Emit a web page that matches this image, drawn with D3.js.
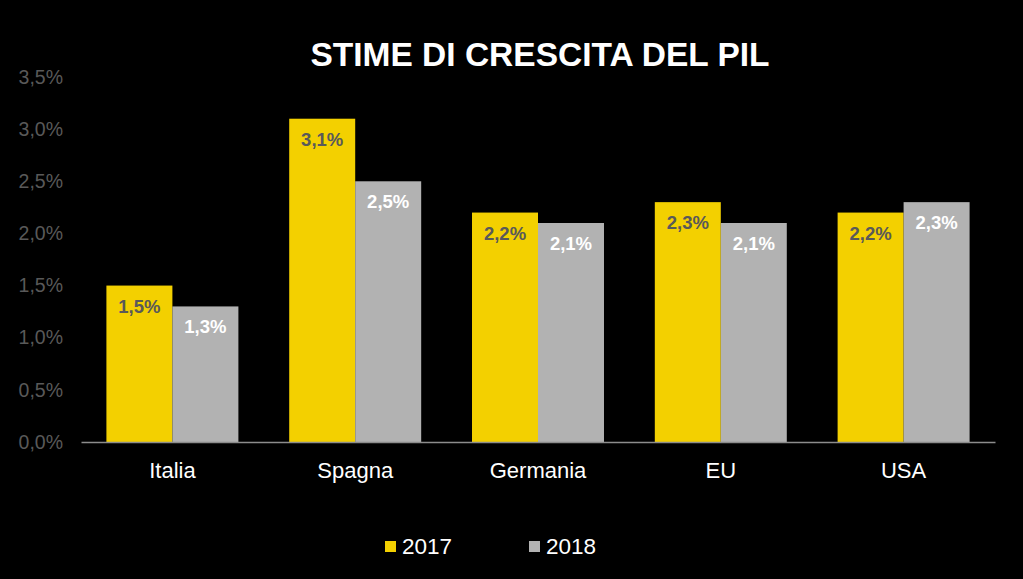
<!DOCTYPE html>
<html><head><meta charset="utf-8">
<script src="https://cdn.jsdelivr.net/npm/d3@7"></script>
<style>html,body{margin:0;padding:0;background:#000;}svg{display:block;}</style>
</head><body>
<svg id="c" width="1023" height="579"></svg>
<script>
const categories = ["Italia", "Spagna", "Germania", "EU", "USA"];
const series2017 = [1.5, 3.1, 2.2, 2.3, 2.2];
const series2018 = [1.3, 2.5, 2.1, 2.1, 2.3];
const seriesNames = ["2017", "2018"];
const yTicks = [0, 0.5, 1, 1.5, 2, 2.5, 3, 3.5];
const chartTitle = "STIME DI CRESCITA DEL PIL";

(function () {
const colors = ["#F3D000", "#B2B2B2"];
const labelColors = ["#595959", "#FFFFFF"];
const fmt = v => d3.format(".1f")(v).replace(".", ",") + "%";
const FONT = "Arial, 'Liberation Sans', sans-serif";

const svg = d3.select("#c");
svg.append("rect").attr("width", 1023).attr("height", 579).attr("fill", "#000");

const mLeft = 81, mRight = 995, mTop = 77, mBottom = 442;
const x = d3.scaleBand().domain(categories).range([mLeft, mRight]).paddingInner(0.278).paddingOuter(0.139);
const xs = d3.scaleBand().domain(seriesNames).range([0, x.bandwidth()]);
const y = d3.scaleLinear().domain([0, 3.5]).range([mBottom, mTop]);

// y axis labels
const yAxis = d3.axisLeft(y).tickValues(yTicks).tickFormat(fmt).tickSize(0).tickPadding(0);
const ga = svg.append("g").attr("transform", `translate(63,0)`).call(yAxis);
ga.select(".domain").remove();
ga.selectAll("text").attr("fill", "#595959").attr("font-family", FONT).attr("font-size", 19.5);

const data = categories.map((c, i) => ({cat: c, vals: [series2017[i], series2018[i]]}));

const groups = svg.append("g").selectAll("g").data(data).join("g")
  .attr("transform", d => `translate(${x(d.cat)},0)`);
groups.selectAll("rect").data(d => d.vals.map((v, k) => ({v, k}))).join("rect")
  .attr("x", d => xs(seriesNames[d.k]))
  .attr("width", xs.bandwidth())
  .attr("y", d => y(d.v))
  .attr("height", d => y(0) - y(d.v))
  .attr("fill", d => colors[d.k]);
groups.selectAll("text").data(d => d.vals.map((v, k) => ({v, k}))).join("text")
  .attr("x", d => xs(seriesNames[d.k]) + xs.bandwidth() / 2)
  .attr("y", d => y(d.v) + 27)
  .attr("text-anchor", "middle")
  .attr("fill", d => labelColors[d.k])
  .attr("font-family", FONT)
  .attr("font-weight", "bold")
  .attr("font-size", 18.5)
  .text(d => fmt(d.v));

// x axis
const xAxis = d3.axisBottom(x).tickSize(0).tickPadding(0);
const gx = svg.append("g").attr("transform", `translate(0,${mBottom})`).call(xAxis);
gx.select(".domain").attr("stroke", "#8C8C8C").attr("stroke-width", 1.5);
gx.selectAll("text").attr("fill", "#FFFFFF").attr("font-family", FONT)
  .attr("font-size", 22).attr("dy", "0").attr("y", 36);

// title
svg.append("text").attr("x", 540).attr("y", 66).attr("text-anchor", "middle")
  .attr("fill", "#FFFFFF").attr("font-family", FONT)
  .attr("font-weight", "bold").attr("font-size", 33.5).text(chartTitle);

// legend
const legendX = [385, 529];
const lg = svg.append("g").selectAll("g").data(seriesNames).join("g")
  .attr("transform", (d, i) => `translate(${legendX[i]},0)`);
lg.append("rect").attr("x", 0).attr("y", 541).attr("width", 11).attr("height", 11).attr("fill", (d, i) => colors[i]);
lg.append("text").attr("x", 17).attr("y", 553.5).attr("fill", "#FFFFFF")
  .attr("font-family", FONT).attr("font-size", 22.5).text(d => d);
})();
</script>
</body></html>
